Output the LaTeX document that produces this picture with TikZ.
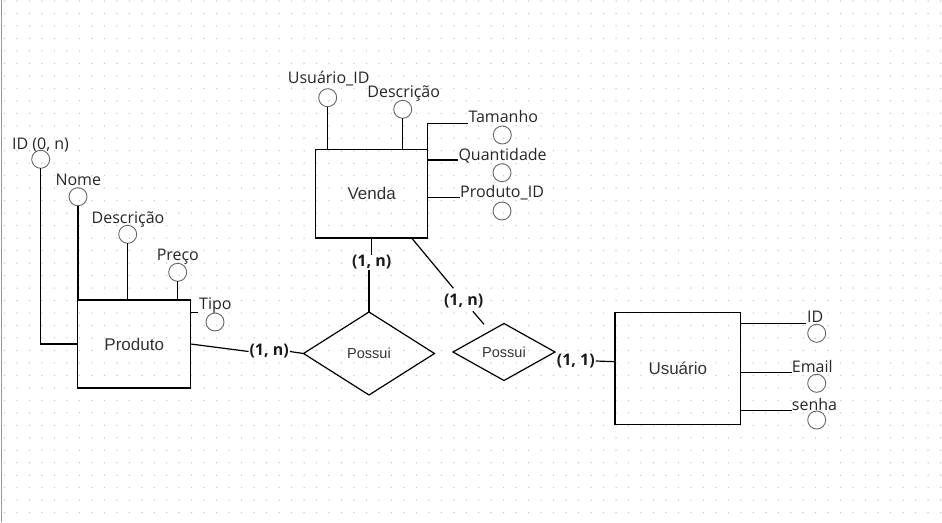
\documentclass[tikz,border=0pt]{standalone}
\usepackage{fontspec}
\setmainfont{Open Sans}
\newfontfamily\arialf{Liberation Sans}
\usetikzlibrary{shapes.geometric,calc}
\begin{document}
\begin{tikzpicture}[x=1pt,y=-1pt,
  entity/.style={draw, line width=1.4pt, inner sep=0pt, outer sep=0pt, text=black!80, font=\arialf\fontsize{17}{20}\selectfont},
  rel/.style={draw, diamond, line width=1.2pt, inner sep=0pt, outer sep=0pt, text=black!80, font=\arialf\fontsize{14.5}{17}\selectfont},
  attr/.style={draw=black!60, circle, minimum size=18pt, inner sep=0pt, outer sep=0pt, line width=0.9pt},
  lbl/.style={inner sep=0pt, text=black!85, font=\fontsize{16}{19}\selectfont},
  card/.style={inner sep=0pt, outer sep=1pt, text=black!90, font=\bfseries\fontsize{16}{19}\selectfont},
  conn/.style={line width=1.2pt, black}]
\useasboundingbox (0,0) rectangle (942,522);
% background grid
\foreach \i in {0,...,75}{\foreach \j in {0,...,41}{\fill[black!22] (4.5+12.48*\i,1+12.48*\j) circle (0.75);}}
\draw[black!40, line width=1pt] (1.7,0) -- (1.7,522);

% entities
\node[entity, minimum width=113pt, minimum height=88pt] (prod) at (134.2,344) {Produto};
\node[entity, minimum width=112pt, minimum height=88.7pt] (venda) at (371.7,193.7) {Venda};
\node[entity, minimum width=125.7pt, minimum height=112pt] (usu) at (677.8,368.3) {Usuário};

% relationships
\node[rel, minimum width=131pt, minimum height=83pt] (d1) at (369,353.5) {Possui};
\node[rel, minimum width=102pt, minimum height=57pt] (d2) at (504,352) {Possui};

% Produto attributes
\node[attr] (cid) at (40.7,159.3) {};
\node[lbl, anchor=base] (lid) at (40.5,149) {ID (0, n)};
\node[attr] (cnome) at (78,196.7) {};
\node[lbl, anchor=base] (lnome) at (78.3,185.5) {Nome};
\node[attr] (cdesc) at (127.7,234.3) {};
\node[lbl, anchor=base] (ldesc) at (128,223.3) {Descrição};
\node[attr] (cpreco) at (177.7,272.3) {};
\node[lbl, anchor=base] (lpreco) at (177.8,260) {Preço};
\node[attr] (ctipo) at (215,322) {};
\node[lbl, anchor=base west] (ltipo) at (199,309) {Tipo};
\coordinate (tipoA) at (198,312.3);

\draw[conn] (cid.south) |- (prod.west);
\draw[conn] (cnome.south) -- (cnome.south |- prod.north);
\draw[conn] (cdesc.south) -- (cdesc.south |- prod.north);
\draw[conn] (cpreco.south) -- (cpreco.south |- prod.north);
\draw[conn] (tipoA -| prod.east) -- (tipoA);

% Venda attributes
\node[attr] (cuid) at (327.7,97.7) {};
\node[lbl, anchor=base] (luid) at (328.7,83.3) {Usuário\_ID};
\node[attr] (cvdesc) at (402.7,109.3) {};
\node[lbl, anchor=base] (lvdesc) at (403.7,97.3) {Descrição};
\node[attr] (ctam) at (502.3,135) {};
\node[lbl, anchor=base west] (ltam) at (468.3,122.3) {Tamanho};
\node[attr] (cqua) at (502,172.7) {};
\node[lbl, anchor=base west] (lqua) at (458.3,160) {Quantidade};
\node[attr] (cpid) at (502,211) {};
\node[lbl, anchor=base west] (lpid) at (460,197.3) {Produto\_ID};
\coordinate (tamA) at (468.3,123.3);
\coordinate (quaA) at (458.3,160);
\coordinate (pidA) at (460,197.7);

\draw[conn] (cuid.south) -- (cuid.south |- venda.north);
\draw[conn] (cvdesc.south) -- (cvdesc.south |- venda.north);
\draw[conn] (venda.north east) |- (tamA);
\draw[conn] (quaA -| venda.east) -- (quaA);
\draw[conn] (pidA -| venda.east) -- (pidA);

% Usuario attributes
\node[attr] (cuuid) at (816.7,333.3) {};
\node[lbl, anchor=base west] (luuid) at (807,322.7) {ID};
\node[attr] (cemail) at (816.7,383.3) {};
\node[lbl, anchor=base west] (lemail) at (791.7,372.7) {Email};
\node[attr] (csenha) at (816.7,420) {};
\node[lbl, anchor=base west] (lsenha) at (791.7,410) {senha};
\coordinate (idA) at (806,323.3);
\coordinate (emA) at (791.7,372.7);
\coordinate (seA) at (791.7,410.7);

\draw[conn] (idA -| usu.east) -- (idA);
\draw[conn] (emA -| usu.east) -- (emA);
\draw[conn] (seA -| usu.east) -- (seA);

% cardinalities and relationship connectors
\node[card] (k1) at (269.2,351.5) {(1, n)};
\node[card] (k2) at (371.7,262.5) {(1, n)};
\node[card] (k3) at (463.7,300.7) {(1, n)};
\node[card] (k4) at (575.8,361) {(1, 1)};

\coordinate (vp) at ($(venda.south)+(40,0)$);
\coordinate (e2) at (484,324.3);
\coordinate (up) at ($(usu.west)+(0,-6.6)$);

\draw[conn] (prod.east) -- (k1.west);
\draw[conn] (k1.east) -- (d1.west);
\draw[conn] (d1.north) -- (d1.north |- k2.south);
\draw[conn] (k2.north -| venda.south) -- (venda.south);
\draw[conn] (vp) -- ($(vp)!0.8!(k3.center)$);
\draw[conn] ($(k3.center)!0.45!(e2)$) -- (e2);
\draw[conn] (k4.east) -- (up);
\end{tikzpicture}
\end{document}
